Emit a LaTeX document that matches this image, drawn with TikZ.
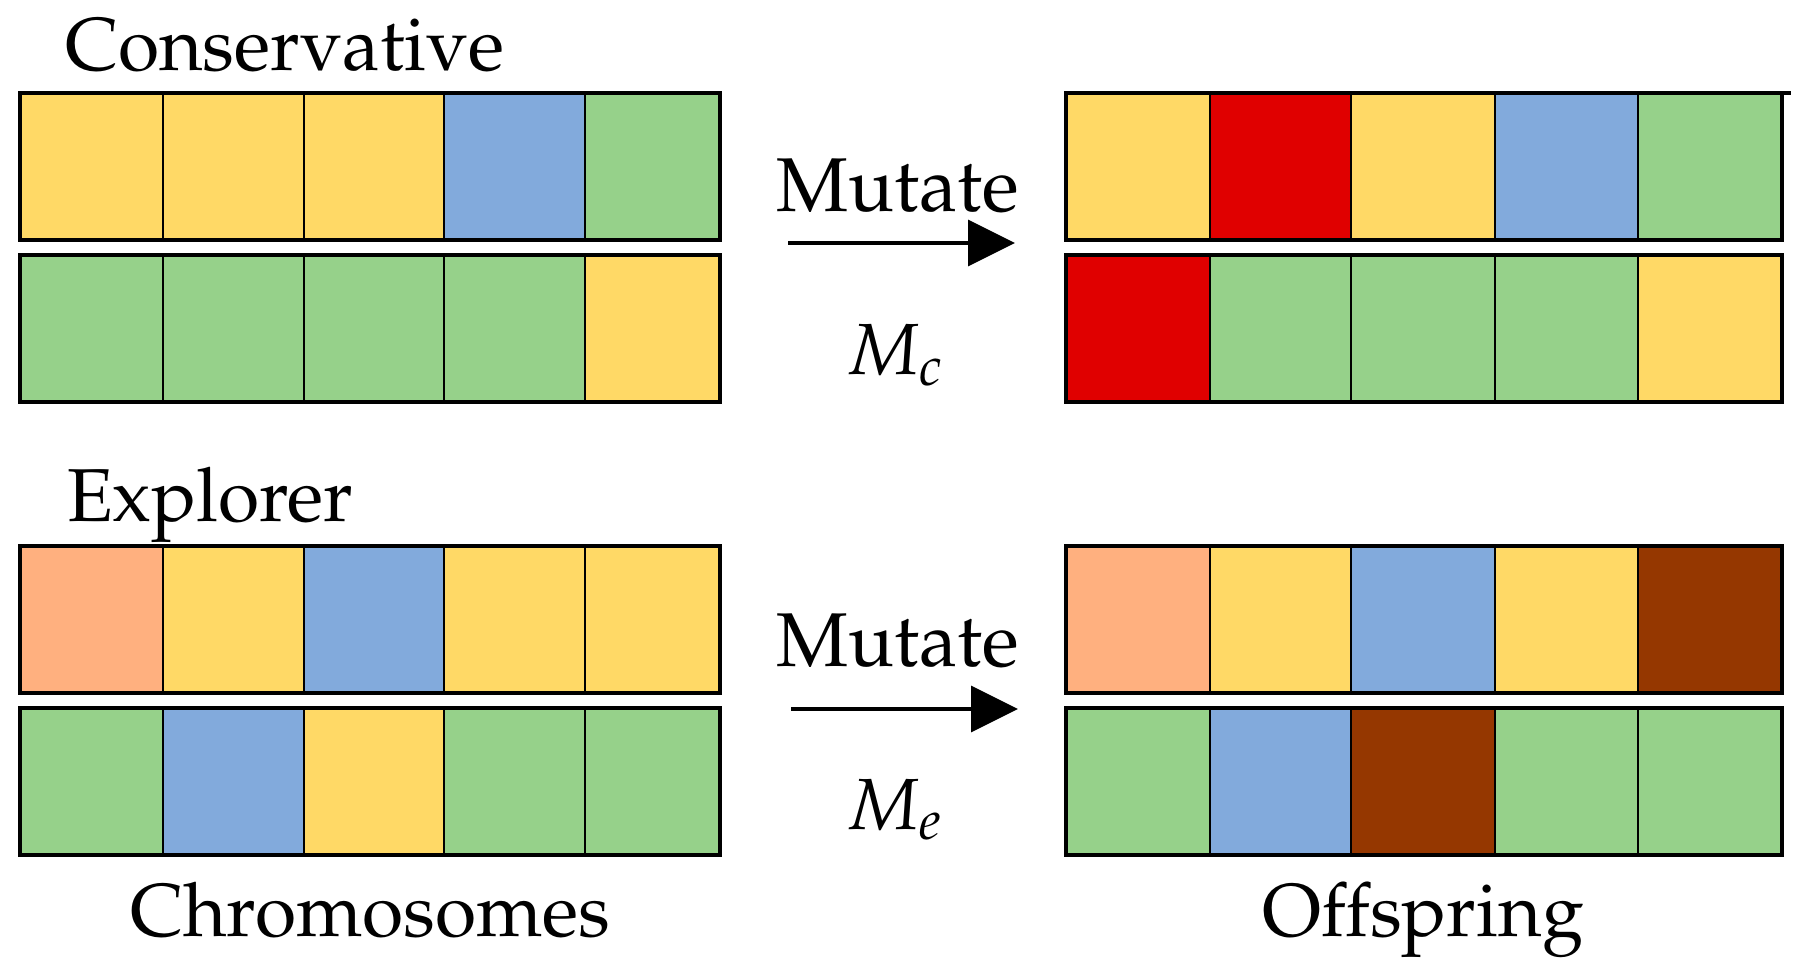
\documentclass[tikz,border=0pt]{standalone}
\usepackage[T1]{fontenc}
\usepackage{mathpazo}
\usetikzlibrary{arrows.meta}
\definecolor{yel}{HTML}{FFD966}
\definecolor{blu}{HTML}{82AADC}
\definecolor{grn}{HTML}{96D18A}
\definecolor{rd}{HTML}{E00000}
\definecolor{brn}{HTML}{953700}
\definecolor{sal}{HTML}{FFB07F}
% row of five genes; boundaries in \xA..\xF
\newcommand{\chromrow}[6]{%
  \fill[#2] (\xA,#1) rectangle (\xB,{#1+147});
  \fill[#3] (\xB,#1) rectangle (\xC,{#1+147});
  \fill[#4] (\xC,#1) rectangle (\xD,{#1+147});
  \fill[#5] (\xD,#1) rectangle (\xE,{#1+147});
  \fill[#6] (\xE,#1) rectangle (\xF,{#1+147});
  \foreach \xx in {\xB,\xC,\xD,\xE} {
    \draw[innerline] (\xx,#1) -- (\xx,{#1+147});
  }
  \draw[outerline] (\xA,#1) rectangle (\xF,{#1+147});
}
\begin{document}
\begin{tikzpicture}[x=0.4pt,y=-0.4pt,
  innerline/.style={line width=1.15pt,black},
  outerline/.style={line width=1.7pt,black},
  lbl/.style={inner sep=0pt,outer sep=0pt},
  mutarrow/.style={line width=1.4pt,-{Triangle[length=18.8pt,width=18.4pt]}}]
\useasboundingbox (0,0) rectangle (1800,971);
% left grids
\def\xA{20}\def\xB{163}\def\xC{304}\def\xD{444}\def\xE{585}\def\xF{720}
\chromrow{93}{yel}{yel}{yel}{blu}{grn}
\chromrow{255}{grn}{grn}{grn}{grn}{yel}
\chromrow{546}{sal}{yel}{blu}{yel}{yel}
\chromrow{708}{grn}{blu}{yel}{grn}{grn}
% right grids
\def\xA{1066}\def\xB{1210}\def\xC{1351}\def\xD{1495}\def\xE{1638}\def\xF{1782}
\chromrow{93}{yel}{rd}{yel}{blu}{grn}
\draw[outerline] (1782,93) -- (1791,93);
\chromrow{255}{rd}{grn}{grn}{grn}{yel}
\chromrow{546}{sal}{yel}{blu}{yel}{brn}
\chromrow{708}{grn}{blu}{brn}{grn}{grn}
% labels
\node[lbl,anchor=base west] (cons) at (65,71) {\fontsize{30}{34}\selectfont Conservative};
\node[lbl,anchor=base west] (expl) at (67,522) {\fontsize{30}{34}\selectfont Explorer};
\node[lbl,anchor=base] (chrom) at (370,936) {\fontsize{30}{34}\selectfont Chromosomes};
\node[lbl,anchor=base] (offs) at (1423,936) {\fontsize{30}{34}\selectfont Offspring};
\node[lbl,anchor=base] (mut1) at (898,212) {\fontsize{30.5}{36}\selectfont Mutate};
\node[lbl,anchor=base] (mc) at (895,375) {\fontsize{29}{34}\selectfont $M_{\scriptstyle c}$};
\node[lbl,anchor=base] (mut2) at (898,666) {\fontsize{30.5}{36}\selectfont Mutate};
\node[lbl,anchor=base] (me) at (895,829) {\fontsize{29}{34}\selectfont $M_{\scriptstyle e}$};
% arrows
\coordinate (a1s) at (788,243);
\coordinate (a1e) at (1015,243);
\coordinate (a2s) at (791,709);
\coordinate (a2e) at (1018,709);
\draw[mutarrow] (a1s) -- (a1e);
\draw[mutarrow] (a2s) -- (a2e);
\end{tikzpicture}
\end{document}
